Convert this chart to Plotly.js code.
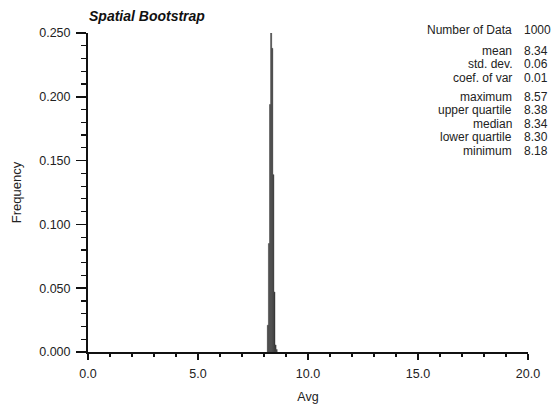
<!DOCTYPE html>
<html>
<head>
<meta charset="utf-8">
<script src="https://cdn.plot.ly/plotly-3.0.1.min.js"></script>
<style>html,body{margin:0;padding:0;background:#fff;}#chart{width:551px;height:408px;}</style>
</head>
<body>
<div id="chart"></div>
<script>
// Histogram classes (bin centers) and frequencies
var binCenters = [8.175, 8.225, 8.275, 8.325, 8.375, 8.425, 8.475, 8.525, 8.575];
var frequencies = [0.021, 0.085, 0.194, 0.250, 0.238, 0.139, 0.047, 0.0055, 0.002];
var binWidth = 0.05;

// Summary statistics
var statLabels = ["Number of Data", "mean", "std. dev.", "coef. of var", "maximum", "upper quartile", "median", "lower quartile", "minimum"];
var statValues = ["1000", "8.34", "0.06", "0.01", "8.57", "8.38", "8.34", "8.30", "8.18"];
var statRowsPx = [30, 50.5, 64, 77.5, 96.5, 110, 123.5, 137, 150.5];

var yTickVals = [0, 0.05, 0.10, 0.15, 0.20, 0.25];
var xTickVals = [0, 5, 10, 15, 20];

var L = 88, R = 23, T = 33, B = 56, W = 551, H = 408;
var pw = W - L - R, ph = H - T - B;
function px2x(p){ return (p - L) / pw; }
function py2y(p){ return (H - B - p) / ph; }

var font = "Liberation Sans, Arial, Helvetica, sans-serif";
var annotations = [];
for (var i = 0; i < statLabels.length; i++) {
  annotations.push({xref:'paper', yref:'paper', x:px2x(514), y:py2y(statRowsPx[i]),
    xanchor:'right', yanchor:'middle', text:statLabels[i], showarrow:false,
    font:{family:font, size:12, color:'#222'}});
  annotations.push({xref:'paper', yref:'paper', x:px2x(522), y:py2y(statRowsPx[i]),
    xanchor:'left', yanchor:'middle', text:statValues[i], showarrow:false,
    font:{family:font, size:12, color:'#222'}});
}
annotations.push({xref:'paper', yref:'paper', x:px2x(87), y:py2y(16),
  xanchor:'left', yanchor:'middle', text:'<b><i>Spatial Bootstrap</i></b>', showarrow:false,
  font:{family:font, size:14, color:'#111'}});

var trace = {
  type:'bar', x:binCenters, y:frequencies, width:binWidth,
  marker:{color:'#262626', line:{color:'#555555', width:0.5}},
  hoverinfo:'skip'
};

var layout = {
  width:W, height:H, margin:{l:L, r:R, t:T, b:B},
  paper_bgcolor:'#fff', plot_bgcolor:'#fff', showlegend:false, bargap:0,
  font:{family:font, size:12.5, color:'#222'},
  xaxis:{range:[0,20], tickvals:xTickVals, ticktext:xTickVals.map(function(v){return v.toFixed(1);}),
    ticks:'outside', ticklen:6, tickwidth:1.5, tickcolor:'#111', ticklabelstandoff:3,
    minor:{dtick:1, ticks:'outside', ticklen:3, tickwidth:1.2, tickcolor:'#111', showgrid:false},
    showline:true, linecolor:'#111', linewidth:2, showgrid:false, zeroline:false,
    tickfont:{family:font, size:12.5, color:'#222'},
    title:{text:'Avg', font:{family:font, size:12.5, color:'#222'}, standoff:12}},
  yaxis:{range:[0,0.25], tickvals:yTickVals, ticktext:yTickVals.map(function(v){return v.toFixed(3);}),
    ticks:'outside', ticklen:10, tickwidth:1.5, tickcolor:'#111', ticklabelstandoff:3,
    minor:{dtick:0.01, ticks:'outside', ticklen:5, tickwidth:1.2, tickcolor:'#111', showgrid:false},
    showline:true, linecolor:'#111', linewidth:2, showgrid:false, zeroline:false,
    tickfont:{family:font, size:12.5, color:'#222'},
    title:{text:'Frequency', font:{family:font, size:13, color:'#222'}, standoff:15}},
  annotations:annotations
};

Plotly.newPlot('chart', [trace], layout, {staticPlot:true, displayModeBar:false});
</script>
</body>
</html>
